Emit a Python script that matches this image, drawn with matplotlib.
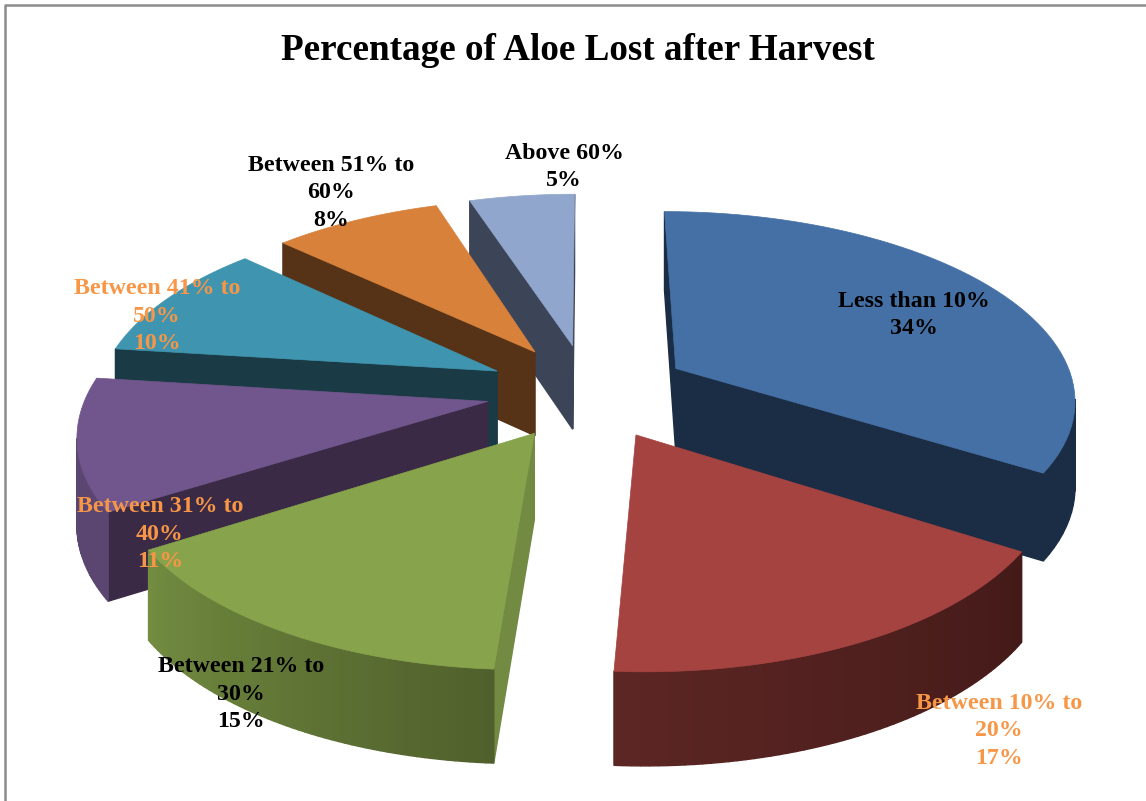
import matplotlib
matplotlib.use('Agg')
import matplotlib.pyplot as plt
import numpy as np
from matplotlib.patches import Polygon

categories = ['Less than 10%', 'Between 10% to\n20%', 'Between 21% to\n30%', 'Between 31% to\n40%',
              'Between 41% to\n50%', 'Between 51% to\n60%', 'Above 60%']
values = [34, 17, 15, 11, 10, 8, 5]

top_colors = ['#4470A5', '#A54341', '#87A44C', '#70568C', '#3F95AF', '#D8813B', '#91A6CD']
cut_colors = ['#1A2D45', '#431A18', '#728A42', '#3A2A45', '#1A3B46', '#563317', '#3C4558']
rim_start = ['#1A2D45', '#431A18', '#50602C', '#5B4672', '#1A3B46', '#563317', '#3C4558']
rim_end = ['#1A2D45', '#5C2624', '#728C40', '#5B4672', '#1A3B46', '#563317', '#3C4558']
label_colors = ['black', '#F79646', 'black', '#F79646', '#F79646', 'black', 'black']
label_pos = [(914, 315), (999, 731), (241, 694), (160, 534), (157, 316), (331, 193), (564, 167)]
draw_order = [6, 5, 4, 3, 0, 2, 1]

cx, cy = 588, 391
A, B, H = 400, 186.7, 85
k = 0.15
explode = 0.255


def project(u, v, bottom=False):
    w = 1 / (1 - k * v)
    x = cx + A * u * w
    y = cy + B * v * w
    if bottom:
        y = y + H * np.sqrt(w)
    return (x, y)


def area(pts):
    a = 0
    for i in range(len(pts)):
        x1, y1 = pts[i]
        x2, y2 = pts[(i + 1) % len(pts)]
        a += x1 * y2 - x2 * y1
    return a


def wall(ax, p, q, color, z):
    # p, q are disk points going clockwise, only draw if it faces us
    pts = [project(*p), project(*q), project(*q, True), project(*p, True)]
    if area(pts) < 0:
        ax.add_patch(Polygon(pts, closed=True, fc=color, ec=color, lw=1.0, zorder=z))


def mix(c1, c2, t):
    a = np.array(matplotlib.colors.to_rgb(c1))
    b = np.array(matplotlib.colors.to_rgb(c2))
    return a + (b - a) * t


fig = plt.figure(figsize=(11.46, 8.01), dpi=100)
ax = fig.add_axes([0, 0, 1, 1])
ax.set_xlim(0, 1146)
ax.set_ylim(801, 0)
ax.axis('off')

ax.plot([5, 5, 1146], [801, 5, 5], color='#8C8C8C', lw=1.8, zorder=1)

edges = np.cumsum([0] + values) / sum(values) * 2 * np.pi

for n, i in enumerate(draw_order):
    z = 2 + n
    t0, t1 = edges[i], edges[i + 1]
    mid = (t0 + t1) / 2
    ox, oy = explode * np.sin(mid), -explode * np.cos(mid)
    th = np.linspace(t0, t1, 60)
    rim = [(ox + np.sin(t), oy - np.cos(t)) for t in th]
    apex = (ox, oy)
    wall(ax, apex, rim[0], cut_colors[i], z)
    wall(ax, rim[-1], apex, cut_colors[i], z)
    for j in range(len(rim) - 1):
        wall(ax, rim[j], rim[j + 1], mix(rim_start[i], rim_end[i], j / (len(rim) - 2)), z)
    top = [project(*apex)] + [project(*p) for p in rim]
    ax.add_patch(Polygon(top, closed=True, fc=top_colors[i], ec=top_colors[i], lw=0.5, zorder=z))

for i, cat in enumerate(categories):
    ax.text(label_pos[i][0], label_pos[i][1], cat + '\n' + str(values[i]) + '%', ha='center', va='center',
            family='Liberation Serif', weight='bold', fontsize=17.2, color=label_colors[i],
            linespacing=1.39, zorder=20)

ax.text(578, 51, 'Percentage of Aloe Lost after Harvest', ha='center', va='center',
        family='Liberation Serif', weight='bold', fontsize=26.7, color='black', zorder=20)

fig.savefig('out.png', dpi=100)
